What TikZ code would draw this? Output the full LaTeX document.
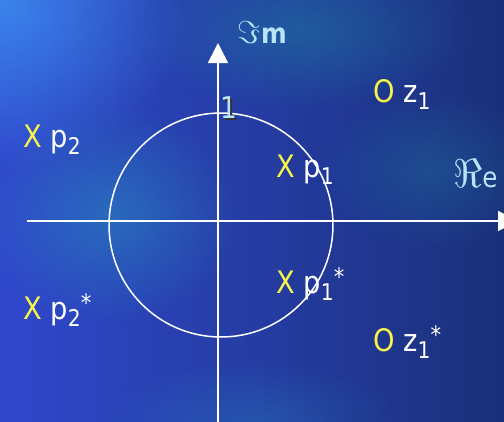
\documentclass[tikz,border=0pt]{standalone}
\usepackage{fontspec}
\setmainfont{DejaVu Sans}[FakeStretch=0.88]
\usetikzlibrary{arrows.meta,fadings}
\definecolor{pzyellow}{RGB}{245,245,75}
\definecolor{pzlabel}{RGB}{185,228,248}
\definecolor{pzbaseL}{RGB}{48,72,205}
\definecolor{pzbaseR}{RGB}{26,48,122}
\definecolor{pzsky}{RGB}{60,140,240}
\definecolor{pzteal}{RGB}{40,128,190}
\definecolor{pzsea}{RGB}{30,115,160}
\tikzfading[name=pzglow,inner color=transparent!0,outer color=transparent!100]
\newcommand{\lowix}[1]{\raisebox{-7pt}{\fontsize{23}{23}\selectfont #1}}
\newcommand{\upix}[1]{\raisebox{8pt}{\fontsize{24}{24}\selectfont #1}}

\begin{document}
\begin{tikzpicture}[x=1pt,y=-1pt,
  pzmark/.style={anchor=base west,inner sep=0pt,text=white,font=\fontsize{31}{31}\selectfont},
  pzaxis/.style={draw=white,line width=1.6pt,-{Triangle[width=20pt,length=20pt]}},
  pzaxlbl/.style={anchor=base west,inner sep=0pt,text=pzlabel}
]
  \useasboundingbox (0,0) rectangle (504,421);
  \clip (0,0) rectangle (504,421);

  % Background
  \shade[left color=pzbaseL,right color=pzbaseR] (0,0) rectangle (504,421);
  \fill[pzsky,opacity=0.9,path fading=pzglow] (0,0) ellipse (190 and 170);
  \fill[pzteal,opacity=0.65,path fading=pzglow] (110,215) ellipse (130 and 110);
  \fill[pzsea,opacity=0.6,path fading=pzglow] (300,30) ellipse (170 and 80);
  \fill[pzsea,opacity=0.4,path fading=pzglow] (430,170) ellipse (110 and 80);
  \fill[pzteal,opacity=0.35,path fading=pzglow] (250,420) ellipse (150 and 60);

  % Axes
  \coordinate (reW) at (27,221);
  \coordinate (reE) at (518,221);
  \coordinate (imS) at (218,425);
  \coordinate (imN) at (218,43);
  \draw[pzaxis] (reW) -- (reE);
  \draw[pzaxis] (imS) -- (imN);

  % Unit circle
  \coordinate (ctr) at (221,225);
  \draw[white,line width=1.5pt] (ctr) circle (112);

  % Axis labels
  \node[pzaxlbl] (imlbl) at (237,43)
    {\resizebox{!}{22pt}{$\Im$}\hspace{1pt}{\fontsize{28}{28}\selectfont\bfseries m}};
  \node[pzaxlbl] (relbl) at (453,187)
    {\resizebox{!}{28pt}{$\Re$}{\fontsize{28}{28}\selectfont e}};
  \node[pzaxlbl,font=\fontsize{30}{30}\selectfont] (one) at (220,118)
    {\rlap{\hspace{2pt}\raisebox{-2pt}{\color{black!80}1}}1};

  % Poles and zeros
  \node[pzmark] (p2) at (23,147) {{\color{pzyellow}X} p\lowix{2}};
  \node[pzmark] (p2c) at (23,319) {{\color{pzyellow}X} p\lowix{2}\upix{*}};
  \node[pzmark] (p1) at (276,177) {{\color{pzyellow}X} p\lowix{1}};
  \node[pzmark] (p1c) at (276,293) {{\color{pzyellow}X} p\lowix{1}\upix{*}};
  \node[pzmark] (z1) at (373,102) {{\color{pzyellow}O} z\lowix{1}};
  \node[pzmark] (z1c) at (373,351) {{\color{pzyellow}O} z\lowix{1}\upix{*}};
\end{tikzpicture}
\end{document}
